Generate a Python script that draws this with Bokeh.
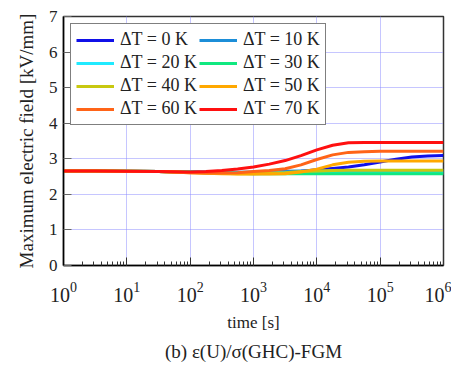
from bokeh.plotting import figure
from bokeh.models import Legend, LegendItem, Title, LogTicker, FixedTicker
from bokeh.embed import file_html
from bokeh.resources import INLINE

# time [s]
time_s = [1, 3.162, 10, 31.62, 100, 177.8, 316.2, 562.3, 1000, 1778, 3162, 5623,
          1e4, 1.778e4, 3.162e4, 5.623e4, 1e5, 1.778e5, 3.162e5, 5.623e5, 1e6]

# Maximum electric field [kV/mm] for each temperature difference
dT0 = [2.66, 2.66, 2.65, 2.64, 2.63, 2.62, 2.61, 2.61, 2.61, 2.61, 2.62, 2.65,
       2.69, 2.73, 2.77, 2.83, 2.91, 2.99, 3.05, 3.08, 3.09]
dT10 = [2.66, 2.66, 2.65, 2.64, 2.63, 2.62, 2.62, 2.62, 2.63, 2.64, 2.65, 2.66,
        2.66, 2.66, 2.66, 2.66, 2.66, 2.66, 2.66, 2.66, 2.66]
dT20 = [2.66, 2.66, 2.65, 2.64, 2.63, 2.62, 2.61, 2.60, 2.60, 2.60, 2.60, 2.60,
        2.60, 2.60, 2.60, 2.60, 2.60, 2.60, 2.60, 2.60, 2.60]
dT30 = [2.66, 2.66, 2.65, 2.64, 2.63, 2.61, 2.60, 2.59, 2.58, 2.58, 2.58, 2.58,
        2.58, 2.58, 2.58, 2.58, 2.58, 2.58, 2.58, 2.58, 2.58]
dT40 = [2.66, 2.66, 2.65, 2.64, 2.62, 2.60, 2.59, 2.58, 2.58, 2.59, 2.61, 2.64,
        2.66, 2.67, 2.68, 2.68, 2.68, 2.68, 2.68, 2.68, 2.68]
dT50 = [2.66, 2.66, 2.65, 2.64, 2.61, 2.59, 2.58, 2.57, 2.57, 2.57, 2.58, 2.63,
        2.71, 2.83, 2.90, 2.93, 2.94, 2.94, 2.94, 2.94, 2.94]
dT60 = [2.66, 2.66, 2.65, 2.64, 2.61, 2.60, 2.60, 2.61, 2.64, 2.67, 2.72, 2.83,
        2.98, 3.11, 3.18, 3.20, 3.21, 3.21, 3.21, 3.21, 3.21]
dT70 = [2.66, 2.66, 2.65, 2.64, 2.63, 2.64, 2.67, 2.71, 2.77, 2.85, 2.95, 3.09,
        3.25, 3.38, 3.45, 3.46, 3.46, 3.46, 3.46, 3.46, 3.46]

series = [dT0, dT10, dT20, dT30, dT40, dT50, dT60, dT70]
labels = ["ΔT = 0 K", "ΔT = 10 K", "ΔT = 20 K", "ΔT = 30 K",
          "ΔT = 40 K", "ΔT = 50 K", "ΔT = 60 K", "ΔT = 70 K"]
colors = ["#1010e8", "#1c8ed8", "#20eaff", "#10e880",
          "#c8c810", "#ffa800", "#ff6418", "#ff1010"]

FONT = "Liberation Serif"

p = figure(width=451, height=365, x_axis_type="log", x_range=(1, 1e6), y_range=(0, 7),
           output_backend="svg", toolbar_location=None,
           min_border_left=63, min_border_right=8, min_border_top=16, min_border_bottom=92)

renderers = []
for ys, c in zip(series, colors):
    r = p.line(time_s, ys, line_color=c, line_width=3)
    renderers.append(r)

# axes styling
p.xaxis.ticker = LogTicker(mantissas=[1], num_minor_ticks=10, desired_num_ticks=7)
p.yaxis.ticker = FixedTicker(ticks=[0, 1, 2, 3, 4, 5, 6, 7])
for ax in (p.xaxis[0], p.yaxis[0]):
    ax.axis_line_color = "black"
    ax.axis_line_width = 1.5
    ax.major_tick_out = 0
    ax.major_tick_in = 8
    ax.minor_tick_out = 0
    ax.minor_tick_in = 4
    ax.major_label_text_font = FONT
    ax.axis_label_text_font = FONT
    ax.axis_label_text_font_style = "normal"
    ax.axis_label_text_color = "#222222"
    ax.major_label_text_color = "#222222"
p.yaxis.major_tick_line_color = "#666666"
p.xaxis.major_tick_line_color = "#333333"
p.xaxis.minor_tick_line_color = "#333333"
p.yaxis.minor_tick_line_color = None
p.yaxis.major_label_text_font_size = "17px"
p.xaxis.major_label_text_font_size = "20px"
p.yaxis.major_label_standoff = 6
p.xaxis.major_label_standoff = 16
p.yaxis.axis_label = "Maximum electric field [kV/mm]"
p.xaxis.axis_label = "time [s]"
p.yaxis.axis_label_text_font_size = "19px"
p.xaxis.axis_label_text_font_size = "17px"
p.yaxis.axis_label_standoff = 9
p.xaxis.axis_label_standoff = 8

p.xgrid.grid_line_color = "#8c8cff"
p.ygrid.grid_line_color = "#8c8cff"
p.xgrid.grid_line_dash = "1 1"
p.ygrid.grid_line_dash = "1 1"
p.xgrid.grid_line_width = 1
p.ygrid.grid_line_width = 1

p.outline_line_color = "#333333"
p.outline_line_width = 1.5
p.background_fill_color = "white"
p.border_fill_color = "white"

# row-major legend: column 1 = 0,20,40,60 K ; column 2 = 10,30,50,70 K
order = [0, 2, 4, 6, 1, 3, 5, 7]
items = [LegendItem(label=labels[i], renderers=[renderers[i]]) for i in order]
legend = Legend(items=items, location="top_left", ncols=2,
                label_text_font=FONT, label_text_font_size="18px",
                label_text_color="#222222",
                glyph_width=38, glyph_height=20, label_height=20,
                label_standoff=6, spacing=2, padding=5, margin=7,
                border_line_color="black", border_line_width=1.5,
                background_fill_alpha=1)
p.add_layout(legend, "center")

cap = Title(text="(b) ε(U)/σ(GHC)-FGM", align="center", text_font=FONT,
            text_font_size="19px", text_font_style="normal", text_color="#222222",
            standoff=8)
p.add_layout(cap, "below")

open("out.html", "w").write(file_html(p, INLINE))
